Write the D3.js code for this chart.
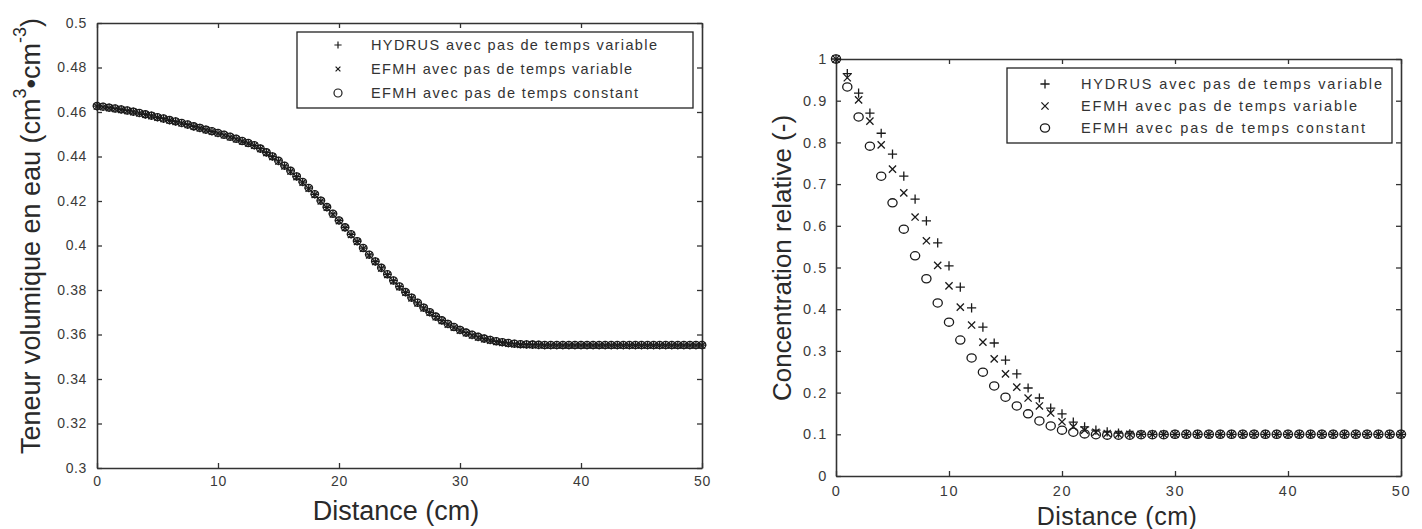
<!DOCTYPE html>
<html><head><meta charset="utf-8">
<script src="https://cdn.jsdelivr.net/npm/d3@7"></script>
<style>
html,body{margin:0;padding:0;background:#fff;}
svg{display:block;font-family:"Liberation Sans",Arial,sans-serif;}
</style></head><body>
<svg id="fig" width="1422" height="529"></svg>
<script>
// ---- Water content profile (left panel) ----
const distTheta = [0,0.5,1,1.5,2,2.5,3,3.5,4,4.5,5,5.5,6,6.5,7,7.5,8,8.5,9,9.5,
  10,10.5,11,11.5,12,12.5,13,13.5,14,14.5,15,15.5,16,16.5,17,17.5,18,18.5,19,19.5,
  20,20.5,21,21.5,22,22.5,23,23.5,24,24.5,25,25.5,26,26.5,27,27.5,28,28.5,29,29.5,
  30,30.5,31,31.5,32,32.5,33,33.5,34,34.5,35,35.5,36,36.5,37,37.5,38,38.5,39,39.5,
  40,40.5,41,41.5,42,42.5,43,43.5,44,44.5,45,45.5,46,46.5,47,47.5,48,48.5,49,49.5,50];
const thetaHydrus = [.4626,.4623,.4619,.4615,.4611,.4606,.4601,.4595,.4589,.4583,
  .4576,.4570,.4563,.4557,.4550,.4543,.4535,.4528,.4520,.4513,
  .4505,.4497,.4488,.4479,.4469,.4460,.4450,.4435,.4418,.4400,
  .4380,.4358,.4335,.4310,.4285,.4258,.4230,.4201,.4172,.4142,
  .4112,.4081,.4050,.4019,.3988,.3958,.3928,.3899,.3870,.3842,
  .3815,.3790,.3765,.3742,.3720,.3700,.3680,.3663,.3647,.3633,
  .3620,.3608,.3598,.3589,.3581,.3575,.3569,.3565,.3561,.3558,
  .3556,.3555,.3554,.3553,.3552,.3552,.3552,.3552,.3552,.3552,
  .3552,.3552,.3552,.3552,.3552,.3552,.3552,.3552,.3552,.3552,
  .3552,.3552,.3552,.3552,.3552,.3552,.3552,.3552,.3552,.3552,.3552];
const thetaEfmhVar = [.4625,.4622,.4618,.4614,.4610,.4605,.4600,.4594,.4588,.4582,
  .4575,.4569,.4562,.4556,.4549,.4542,.4534,.4527,.4519,.4512,
  .4504,.4496,.4487,.4478,.4468,.4459,.4449,.4434,.4416,.4398,
  .4378,.4356,.4333,.4308,.4283,.4256,.4228,.4199,.4170,.4140,
  .4110,.4079,.4048,.4017,.3986,.3956,.3926,.3897,.3868,.3840,
  .3813,.3788,.3763,.3740,.3718,.3698,.3678,.3661,.3645,.3631,
  .3618,.3606,.3596,.3587,.3579,.3573,.3567,.3563,.3559,.3556,
  .3554,.3553,.3552,.3552,.3551,.3551,.3551,.3551,.3551,.3551,
  .3551,.3551,.3551,.3551,.3551,.3551,.3551,.3551,.3551,.3551,
  .3551,.3551,.3551,.3551,.3551,.3551,.3551,.3551,.3551,.3551,.3551];
const thetaEfmhConst = [.4627,.4624,.4620,.4616,.4612,.4607,.4602,.4596,.4590,.4584,
  .4577,.4571,.4564,.4558,.4551,.4544,.4536,.4529,.4521,.4514,
  .4506,.4498,.4489,.4480,.4470,.4461,.4451,.4436,.4419,.4401,
  .4381,.4359,.4336,.4311,.4286,.4259,.4231,.4202,.4173,.4143,
  .4113,.4082,.4051,.4020,.3989,.3959,.3929,.3900,.3871,.3843,
  .3816,.3791,.3766,.3743,.3721,.3701,.3681,.3664,.3648,.3634,
  .3621,.3609,.3599,.3590,.3582,.3576,.3570,.3566,.3562,.3559,
  .3557,.3556,.3555,.3554,.3553,.3553,.3553,.3553,.3553,.3553,
  .3553,.3553,.3553,.3553,.3553,.3553,.3553,.3553,.3553,.3553,
  .3553,.3553,.3553,.3553,.3553,.3553,.3553,.3553,.3553,.3553,.3553];
const thetaXTicks = [0,10,20,30,40,50];
const thetaYTicks = [0.3,0.32,0.34,0.36,0.38,0.4,0.42,0.44,0.46,0.48,0.5];

// ---- Relative concentration profile (right panel) ----
const distConc = [0,1,2,3,4,5,6,7,8,9,10,11,12,13,14,15,16,17,18,19,20,21,22,23,24,25,
  26,27,28,29,30,31,32,33,34,35,36,37,38,39,40,41,42,43,44,45,46,47,48,49,50];
const concHydrus = [1.000,.965,.918,.870,.822,.772,.719,.664,.612,.559,.504,.453,.403,.357,
  .319,.278,.245,.211,.187,.163,.149,.129,.118,.110,.106,.103,.101,
  .100,.100,.100,.100,.100,.100,.100,.100,.100,.100,.100,.100,.100,.100,.100,.100,
  .100,.100,.100,.100,.100,.100,.100,.100];
const concEfmhVar = [1.000,.955,.902,.851,.794,.736,.679,.621,.564,.505,.456,.405,.362,.321,
  .281,.245,.213,.187,.168,.151,.130,.118,.110,.105,.102,.100,
  .100,.100,.100,.100,.100,.100,.100,.100,.100,.100,.100,.100,.100,.100,.100,.100,
  .100,.100,.100,.100,.100,.100,.100,.100,.100];
const concEfmhConst = [1.000,.933,.861,.791,.719,.655,.592,.528,.473,.415,.369,.326,.283,.249,
  .216,.189,.168,.149,.132,.120,.110,.105,.101,.099,.098,.098,.098,.099,.099,.099,
  .100,.100,.100,.100,.100,.100,.100,.100,.100,.100,.100,.100,.100,.100,.100,.100,
  .100,.100,.100,.100,.100];
const concXTicks = [0,10,20,30,40,50];
const concYTicks = [0,0.1,0.2,0.3,0.4,0.5,0.6,0.7,0.8,0.9,1];

const seriesNames = ["HYDRUS avec pas de temps variable",
                     "EFMH avec pas de temps variable",
                     "EFMH avec pas de temps constant"];

const svg = d3.select("#fig");
const INK = "#1a1a1a";

// marker path builders
const plusPath = s => `M${-s},0H${s}M0,${-s}V${s}`;
const timesPath = s => `M${-s},${-s}L${s},${s}M${-s},${s}L${s},${-s}`;

function drawMarkers(g, xs, ys, x, y, kind, m) {
  const pts = xs.map((d, i) => [d, ys[i]]);
  const sel = g.append("g").attr("fill", "none").attr("stroke", INK).attr("stroke-width", m.sw);
  if (kind === "circle") {
    sel.selectAll("ellipse").data(pts).join("ellipse")
      .attr("cx", d => x(d[0])).attr("cy", d => y(d[1]))
      .attr("rx", m.rx).attr("ry", m.ry);
  } else {
    const p = kind === "plus" ? plusPath(m.plus) : timesPath(m.times);
    sel.selectAll("path").data(pts).join("path")
      .attr("d", p).attr("transform", d => `translate(${x(d[0])},${y(d[1])})`);
  }
}

function legendMarker(g, kind, cx, cy, m) {
  if (kind === "circle") {
    g.append("ellipse").attr("cx", cx).attr("cy", cy).attr("rx", m.rx).attr("ry", m.ry)
      .attr("fill", "none").attr("stroke", INK).attr("stroke-width", m.sw);
  } else {
    g.append("path").attr("d", kind === "plus" ? plusPath(m.plus) : timesPath(m.times))
      .attr("transform", `translate(${cx},${cy})`)
      .attr("fill", "none").attr("stroke", INK).attr("stroke-width", m.sw);
  }
}

function drawFrame(x, y, xTicks, yTicks, fmtY, o) {
  const g = svg.append("g");
  const [x0, x1] = x.range();
  const [y0, y1] = y.range();
  g.append("g").attr("transform", `translate(0,${y0})`)
    .call(d3.axisBottom(x).tickValues(xTicks).tickSizeInner(-5).tickSizeOuter(0)
      .tickPadding(o.padX).tickFormat(d3.format("d")));
  g.append("g").attr("transform", `translate(${x0},0)`)
    .call(d3.axisLeft(y).tickValues(yTicks).tickSizeInner(-5).tickSizeOuter(0)
      .tickPadding(o.padY).tickFormat(fmtY));
  g.append("g").attr("transform", `translate(0,${y1})`)
    .call(d3.axisTop(x).tickValues(xTicks).tickSizeInner(-5).tickSizeOuter(0).tickFormat(""));
  g.append("g").attr("transform", `translate(${x1},0)`)
    .call(d3.axisRight(y).tickValues(yTicks).tickSizeInner(-5).tickSizeOuter(0).tickFormat(""));
  g.selectAll(".domain").attr("stroke", "#333").attr("stroke-width", 1.6);
  g.selectAll(".tick line").attr("stroke", "#333").attr("stroke-width", 1.3);
  g.selectAll(".tick text").attr("fill", "#3a3a3a").style("font-size", o.fs + "px")
    .style("letter-spacing", o.ls + "px").style("font-family", '"Liberation Sans",Arial,sans-serif');
  return g;
}

// ================= left panel =================
const xL = d3.scaleLinear().domain([0, 50]).range([97, 702]);
const yL = d3.scaleLinear().domain([0.3, 0.5]).range([468, 23]);
const fmtTheta = d => (d === 0.3 || d === 0.5 || d === 0.4) ? String(d) : d3.format(".2f")(d);
drawFrame(xL, yL, thetaXTicks, thetaYTicks, fmtTheta, {padX: 8, padY: 10, fs: 14, ls: 0.6});

const mL = {plus: 4.2, times: 3.2, rx: 3.8, ry: 3.5, sw: 1.3};
const gL = svg.append("g");
drawMarkers(gL, distTheta, thetaHydrus, xL, yL, "plus", mL);
drawMarkers(gL, distTheta, thetaEfmhVar, xL, yL, "times", mL);
drawMarkers(gL, distTheta, thetaEfmhConst, xL, yL, "circle", mL);

// legend (left)
const legL = svg.append("g");
legL.append("rect").attr("x", 297).attr("y", 32).attr("width", 396).attr("height", 76)
  .attr("fill", "#fff").attr("stroke", "#222").attr("stroke-width", 1.3);
const kinds = ["plus", "times", "circle"];
const legLRows = [45, 69, 93];
const legLWidths = [286, 261, 267];
kinds.forEach((k, i) => {
  legendMarker(legL, k, 338, legLRows[i], {plus: 3.6, times: 2.4, rx: 4, ry: 4, sw: 1.2});
  legL.append("text").attr("x", 371).attr("y", legLRows[i]).attr("dy", "0.36em")
    .attr("textLength", legLWidths[i]).attr("lengthAdjust", "spacing")
    .attr("fill", "#333").style("font-size", "14.5px").text(seriesNames[i]);
});

// axis titles (left)
const tL = svg.append("text").attr("transform", "translate(31,236) rotate(-90)")
  .attr("text-anchor", "middle").attr("dominant-baseline", "central")
  .attr("fill", "#2a2a2a").style("font-size", "27px");
tL.append("tspan").text("Teneur volumique en eau (cm");
tL.append("tspan").attr("dy", -11).style("font-size", "18px").text("3");
tL.append("tspan").attr("dy", 11).text("•cm");
tL.append("tspan").attr("dy", -11).style("font-size", "18px").text("-3");
tL.append("tspan").attr("dy", 11).text(")");
svg.append("text").attr("x", 396).attr("y", 520).attr("text-anchor", "middle")
  .attr("fill", "#2a2a2a").style("font-size", "27px").text("Distance (cm)");

// ================= right panel =================
const xR = d3.scaleLinear().domain([0, 50]).range([836, 1401]);
const yR = d3.scaleLinear().domain([0, 1]).range([476, 59]);
const fmtConc = d => String(+d.toFixed(1));
drawFrame(xR, yR, concXTicks, concYTicks, fmtConc, {padX: 10, padY: 8, fs: 14.5, ls: 1.6});

const mR = {plus: 4.6, times: 3.6, rx: 4.6, ry: 4.1, sw: 1.3};
const gR = svg.append("g");
drawMarkers(gR, distConc, concHydrus, xR, yR, "plus", mR);
drawMarkers(gR, distConc, concEfmhVar, xR, yR, "times", mR);
drawMarkers(gR, distConc, concEfmhConst, xR, yR, "circle", mR);

// legend (right)
const legR = svg.append("g");
legR.append("rect").attr("x", 1007).attr("y", 68).attr("width", 385).attr("height", 75)
  .attr("fill", "#fff").attr("stroke", "#222").attr("stroke-width", 1.3);
const legRRows = [84, 106, 128];
const legRWidths = [301, 276, 284];
kinds.forEach((k, i) => {
  legendMarker(legR, k, 1045, legRRows[i], mR);
  legR.append("text").attr("x", 1081).attr("y", legRRows[i]).attr("dy", "0.36em")
    .attr("textLength", legRWidths[i]).attr("lengthAdjust", "spacing")
    .attr("fill", "#333").style("font-size", "14.5px").text(seriesNames[i]);
});

// axis titles (right)
svg.append("text").attr("transform", "translate(782,258) rotate(-90)")
  .attr("text-anchor", "middle").attr("dominant-baseline", "central")
  .attr("fill", "#2a2a2a").style("font-size", "26px").text("Concentration relative (-)");
svg.append("text").attr("x", 1117).attr("y", 525).attr("text-anchor", "middle")
  .attr("fill", "#2a2a2a").style("font-size", "25px").style("letter-spacing", "0.5px")
  .text("Distance (cm)");
</script>
</body></html>
